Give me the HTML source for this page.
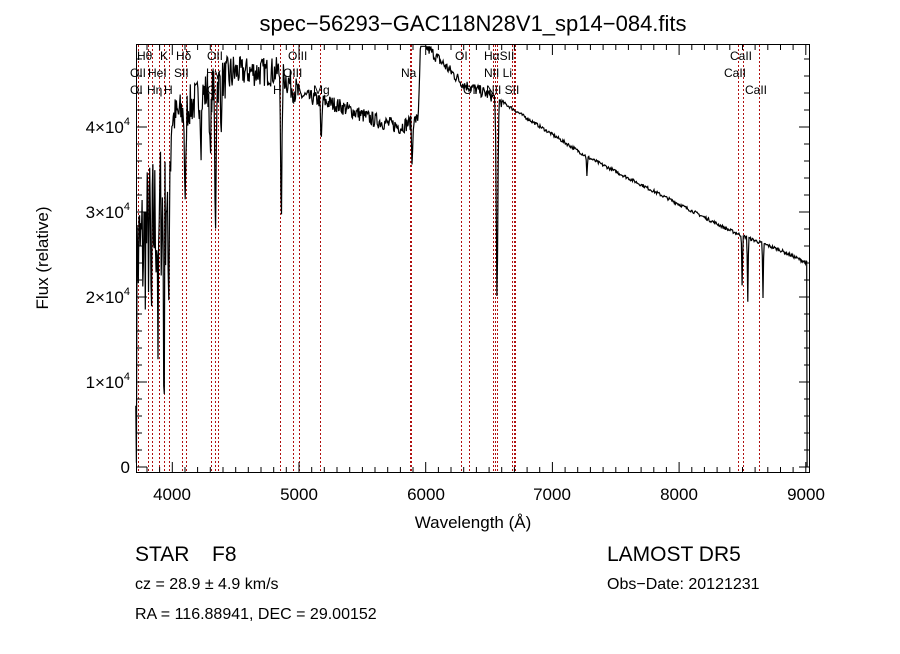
<!DOCTYPE html>
<html><head><meta charset="utf-8"><style>
body{margin:0;background:#fff;width:900px;height:649px;overflow:hidden;font-family:"Liberation Sans",sans-serif}
svg text{font-family:"Liberation Sans",sans-serif;fill:#000}
</style></head><body>
<svg id="s" width="900" height="649" xmlns="http://www.w3.org/2000/svg">
<rect width="900" height="649" fill="#fff"/>
<text x="473" y="31" font-size="22" text-anchor="middle">spec−56293−GAC118N28V1_sp14−084.fits</text>
<g id="vl" stroke="#b01010" stroke-width="1" stroke-dasharray="2,2"></g>
<g id="tk" stroke="#000" stroke-width="1"></g>
<path id="sp" fill="none" stroke="#000" stroke-width="1.2"/>
<rect x="136.5" y="44.5" width="673" height="428" fill="none" stroke="#000" stroke-width="1"/>
<g font-size="12">
<text x="137" y="60">Hθ</text><text x="160" y="60">K</text><text x="176" y="60">Hδ</text><text x="207" y="60">OII</text><text x="288" y="60">OIII</text>
<text x="130" y="77">OII</text><text x="148" y="77">HeI</text><text x="174" y="77">SII</text><text x="206" y="77">Hγ</text><text x="283" y="77">OIII</text><text x="401" y="77">Na</text>
<text x="130" y="94">OI</text><text x="147" y="94">Hη</text><text x="164" y="94">H</text><text x="207" y="94">G</text><text x="273" y="94">H</text><text x="313" y="94">Mg</text>
<text x="455" y="60">OI</text><text x="484" y="60">HαSII</text><text x="730" y="60">CaII</text>
<text x="484" y="77">NII Li</text><text x="724" y="77">CaII</text>
<text x="463" y="94">OI</text><text x="486" y="94">NII SII</text><text x="745" y="94">CaII</text>
</g>
<g font-size="17" text-anchor="middle">
<text x="172" y="500">4000</text><text x="299" y="500">5000</text><text x="426" y="500">6000</text><text x="552" y="500">7000</text><text x="679" y="500">8000</text><text x="806" y="500">9000</text>
</g>
<text x="473" y="528" font-size="17" text-anchor="middle">Wavelength (Å)</text>
<g font-size="17" text-anchor="end">
<text x="130" y="473">0</text>
<text x="130" y="388">1×10<tspan font-size="11" dy="-8">4</tspan></text>
<text x="130" y="303">2×10<tspan font-size="11" dy="-8">4</tspan></text>
<text x="130" y="218">3×10<tspan font-size="11" dy="-8">4</tspan></text>
<text x="130" y="133">4×10<tspan font-size="11" dy="-8">4</tspan></text>
</g>
<text transform="translate(48,258) rotate(-90)" font-size="17" text-anchor="middle">Flux (relative)</text>
<text x="135" y="561" font-size="21">STAR</text><text x="212" y="561" font-size="21">F8</text>
<text x="607" y="561" font-size="21">LAMOST DR5</text>
<text x="135" y="589" font-size="16">cz = 28.9 ± 4.9 km/s</text>
<text x="607" y="589" font-size="16">Obs−Date: 20121231</text>
<text x="135" y="619" font-size="16">RA = 116.88941, DEC =  29.00152</text>
</svg>
<script>
var NS="http://www.w3.org/2000/svg";
function X(l){return 172.3+(l-4000)*0.1267;}
function Y(f){return 467-85*f;}
var vl=document.getElementById('vl');
[138,148,152,159,164,169,182,186,211,215,218,280,293,299,320,410,411,461,469,493,495,497,512,514,515,738,743,759].forEach(function(x){
 var e=document.createElementNS(NS,'line');e.setAttribute('x1',x+.5);e.setAttribute('x2',x+.5);e.setAttribute('y1',45);e.setAttribute('y2',472);vl.appendChild(e);});
var tk=document.getElementById('tk'),d='';
for(var l=3800;l<=9000;l+=100){var x=X(l).toFixed(1),L=(l%1000==0)?10:5;d+='M'+x+' 472v-'+L+'M'+x+' 45v'+L;}
for(var f=0;f<=4.9;f+=0.2){var y=Y(f).toFixed(1),L=(Math.abs(f-Math.round(f))<0.01)?10:5;d+='M137 '+y+'h'+L+'M809 '+y+'h-'+L;}
var p=document.createElementNS(NS,'path');p.setAttribute('d',d);tk.appendChild(p);
var seed=7;function r(){seed=(seed*16807)%2147483647;return seed/2147483647-0.5;}
function cont(l){
 var pts=[[3712,2.4],[3800,2.7],[3900,3.0],[3950,3.2],[4000,4.1],[4100,4.2],[4300,4.45],[4500,4.65],[4850,4.65],[5000,4.38],[5300,4.26],[5600,4.08],[5800,4.0],[5940,4.1],[5960,5.0],[6000,4.95],[6300,4.5],[6500,4.38],[6600,4.3],[6720,4.18],[7273,3.65],[8378,2.8],[8500,2.72],[8800,2.55],[9010,2.4]];
 for(var i=0;i<pts.length-1;i++)if(l<=pts[i+1][0]){var a=pts[i],b=pts[i+1];return a[1]+(b[1]-a[1])*(l-a[0])/(b[0]-a[0]);}return 2.4;}
function noise(l){if(l<3990)return 1.8;if(l<4500)return 0.5;if(l<5000)return 0.35;if(l<5900)return 0.18;if(l<6600)return 0.14;return 0.04;}
var lines=[[3835,1.2,8],[3889,1.5,8],[3934,2.3,8],[3969,2.2,8],[4102,1.2,10],[4227,0.5,8],[4300,0.9,10],[4340,1.7,10],[4384,0.6,6],[4861,1.8,10],[5175,0.5,10],[5893,0.55,8],[6563,2.4,12],[7273,0.25,6],[8498,0.6,6],[8542,0.75,6],[8662,0.65,6]];
var s='';
for(var l=3712;l<=9010;l+=5){
 var f=cont(l)+noise(l)*r();
 lines.forEach(function(q){var dl=l-q[0];f-=q[1]*Math.exp(-dl*dl/(2*q[2]*q[2]/4));});
 if(l<3720)f=0.3+r();
 if(f>4.95)f=4.95;if(f<0.05)f=0.05;
 s+=(s?'L':'M')+X(l).toFixed(1)+' '+Y(f).toFixed(1);
}
s+='L'+X(9010).toFixed(1)+' 467';
document.getElementById('sp').setAttribute('d',s);
</script>
</body></html>
